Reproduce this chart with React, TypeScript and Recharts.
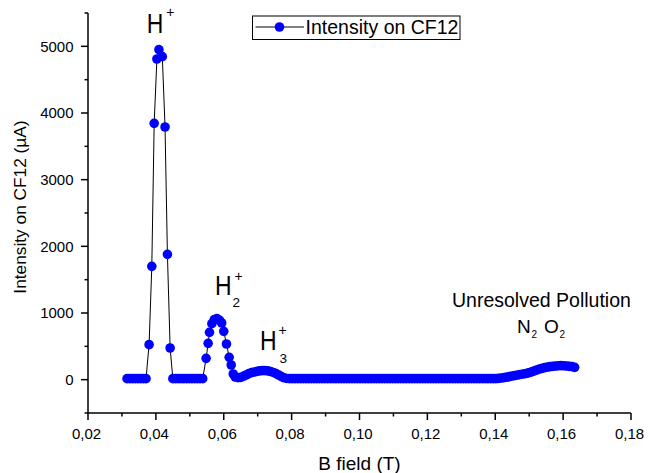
import { Line, LineChart, XAxis, YAxis } from 'recharts'

// B field (T) / intensity (µA)
const leadB = [0.0315, 0.0323, 0.0331, 0.0339, 0.0347, 0.0355, 0.0363, 0.0371]
const leadI = [15, 15, 15, 15, 15, 15, 15, 15]

const hPlusB = [0.038, 0.0388, 0.0395, 0.0403, 0.0409, 0.0419, 0.0427, 0.0434, 0.0442]
const hPlusI = [525, 1700, 3845, 4810, 4950, 4845, 3790, 1880, 475]

const gapB = [0.045, 0.0458, 0.0466, 0.0474, 0.0482, 0.049, 0.0498, 0.0506, 0.0514, 0.0522, 0.053, 0.0538]
const gapI = [15, 15, 15, 15, 15, 15, 15, 15, 15, 15, 15, 15]

const h2B = [0.0548, 0.0554, 0.0558, 0.0565, 0.0572, 0.058, 0.0588, 0.0594, 0.06, 0.0608, 0.0616, 0.0622, 0.0628]
const h2I = [320, 545, 710, 840, 900, 915, 890, 850, 725, 535, 335, 220, 85]

const h3B = [
  0.0634, 0.0642, 0.065, 0.0658, 0.0666, 0.0674, 0.0682, 0.069, 0.0698, 0.0706,
  0.0714, 0.0722, 0.073, 0.0738, 0.0746, 0.0754, 0.0762, 0.077, 0.0778, 0.0786,
]
const h3I = [40, 30, 35, 50, 70, 90, 105, 115, 125, 132, 136, 136, 132, 122, 108, 90, 70, 45, 28, 18]

const flatB = [
  0.0794, 0.0802, 0.081, 0.0818, 0.0826, 0.0834, 0.0842, 0.085, 0.0858, 0.0866,
  0.0874, 0.0882, 0.089, 0.0898, 0.0906, 0.0914, 0.0922, 0.093, 0.0938, 0.0946,
  0.0954, 0.0962, 0.097, 0.0978, 0.0986, 0.0994, 0.1002, 0.101, 0.1018, 0.1026,
  0.1034, 0.1042, 0.105, 0.1058, 0.1066, 0.1074, 0.1082, 0.109, 0.1098, 0.1106,
  0.1114, 0.1122, 0.113, 0.1138, 0.1146, 0.1154, 0.1162, 0.117, 0.1178, 0.1186,
  0.1194, 0.1202, 0.121, 0.1218, 0.1226, 0.1234, 0.1242, 0.125, 0.1258, 0.1266,
  0.1274, 0.1282, 0.129, 0.1298, 0.1306, 0.1314, 0.1322, 0.133, 0.1338, 0.1346,
  0.1354, 0.1362, 0.137, 0.1378, 0.1386, 0.1394,
]
const flatI = [
  15, 15, 15, 15, 15, 15, 15, 15, 15, 15,
  15, 15, 15, 15, 15, 15, 15, 15, 15, 15,
  15, 15, 15, 15, 15, 15, 15, 15, 15, 15,
  15, 15, 15, 15, 15, 15, 15, 15, 15, 15,
  15, 15, 15, 15, 15, 15, 15, 15, 15, 15,
  15, 15, 15, 15, 15, 15, 15, 15, 15, 15,
  15, 15, 15, 15, 15, 15, 15, 15, 15, 15,
  15, 15, 15, 15, 15, 15,
]

const pollutionB = [
  0.1402, 0.141, 0.1418, 0.1426, 0.1434, 0.1442, 0.145, 0.1458, 0.1466, 0.1474,
  0.1482, 0.149, 0.1498, 0.1506, 0.1514, 0.1522, 0.153, 0.1538, 0.1546, 0.1554,
  0.1562, 0.157, 0.1578, 0.1586, 0.1594, 0.1602, 0.161, 0.1618, 0.1626, 0.1634,
]
const pollutionI = [
  15, 20, 25, 30, 38, 45, 55, 62, 70, 78,
  85, 92, 102, 115, 130, 145, 158, 170, 180, 188,
  195, 200, 205, 208, 210, 208, 205, 200, 195, 185,
]

const xTicks = [0.02, 0.03, 0.04, 0.05, 0.06, 0.07, 0.08, 0.09, 0.1, 0.11, 0.12, 0.13, 0.14, 0.15, 0.16, 0.17, 0.18]
const yTicks = [-500, 0, 500, 1000, 1500, 2000, 2500, 3000, 3500, 4000, 4500, 5000, 5500]

const segments: [number[], number[]][] = [
  [leadB, leadI],
  [hPlusB, hPlusI],
  [gapB, gapI],
  [h2B, h2I],
  [h3B, h3I],
  [flatB, flatI],
  [pollutionB, pollutionI],
]
const rows = segments.flatMap(([bs, is]) => bs.map((b, k) => ({ b, i: is[k] })))

const FONT = '"Liberation Sans", Arial, sans-serif'

function XTick(props: any) {
  const { x, y, payload } = props
  const v = payload.value as number
  const major = Math.round(v * 100) % 2 === 0
  return (
    <g>
      <line x1={x} y1={y} x2={x} y2={y + (major ? 7 : 3.5)} stroke="#000" strokeWidth={1.5} />
      {major && (
        <text x={x - 1.5} y={y + 25.5} textAnchor="middle" fontSize={15} fontFamily={FONT} fill="#000">
          {v.toFixed(2).replace('.', ',')}
        </text>
      )}
    </g>
  )
}

function YTick(props: any) {
  const { x, y, payload } = props
  const v = payload.value as number
  const major = v % 1000 === 0
  return (
    <g>
      <line x1={x - (major ? 7 : 3.5)} y1={y} x2={x} y2={y} stroke="#000" strokeWidth={1.5} />
      {major && (
        <text x={x - 14.5} y={y + 5.3} textAnchor="end" fontSize={15} fontFamily={FONT} fill="#000">
          {v}
        </text>
      )}
    </g>
  )
}

function Overlay() {
  const t = { fontFamily: FONT, fill: '#000' }
  return (
    <svg width={650} height={473} style={{ position: 'absolute', left: 0, top: 0, pointerEvents: 'none' }}>
      {/* legend */}
      <rect x={252.5} y={16} width={207.5} height={23.5} fill="#fff" stroke="#000" strokeWidth={1} />
      <line x1={255.5} y1={27} x2={304} y2={27} stroke="#000" strokeWidth={1} />
      <circle cx={279.5} cy={27} r={4.8} fill="#0000ff" />
      <text x={305.6} y={34} fontSize={19.5} {...t}>Intensity on CF12</text>

      {/* axis titles */}
      <text x={359.5} y={470} fontSize={19} textAnchor="middle" {...t}>B field (T)</text>
      <text transform="translate(25.5,207) rotate(-90)" fontSize={17.3} textAnchor="middle" {...t}>
        Intensity on CF12 (µA)
      </text>

      {/* peak labels */}
      <text transform="translate(146.7,33.3) scale(0.82,1)" fontSize={28} {...t}>H</text>
      <text x={166.3} y={17} fontSize={14} {...t}>+</text>

      <text transform="translate(215,295) scale(0.82,1)" fontSize={28} {...t}>H</text>
      <text x={234.5} y={281.4} fontSize={14} {...t}>+</text>
      <text x={232.5} y={306.7} fontSize={13.5} {...t}>2</text>

      <text transform="translate(260,350) scale(0.82,1)" fontSize={28} {...t}>H</text>
      <text x={278.5} y={335.4} fontSize={14} {...t}>+</text>
      <text x={279.5} y={363} fontSize={13.5} {...t}>3</text>

      <text x={452} y={307.3} fontSize={19.5} {...t}>Unresolved Pollution</text>
      <text x={517} y={333.3} fontSize={19} {...t}>N</text>
      <text x={531.5} y={338.3} fontSize={10} {...t}>2</text>
      <text x={544} y={333.3} fontSize={19} {...t}>O</text>
      <text x={559.5} y={338.3} fontSize={10} {...t}>2</text>
    </svg>
  )
}

export default function App() {
  return (
    <div style={{ position: 'absolute', left: 0, top: 0, width: 650, height: 473, background: '#fff' }}>
      <LineChart width={650} height={473} data={rows} margin={{ top: 13, right: 19, bottom: 0, left: 0 }}>
        <XAxis
          dataKey="b"
          type="number"
          domain={[0.02, 0.18]}
          ticks={xTicks}
          interval={0}
          allowDataOverflow
          height={60}
          tickSize={0}
          tickMargin={0}
          tickLine={false}
          axisLine={{ stroke: '#000', strokeWidth: 1.5 }}
          tick={<XTick />}
        />
        <YAxis
          type="number"
          domain={[-500, 5500]}
          ticks={yTicks}
          interval={0}
          allowDataOverflow
          width={88}
          tickSize={0}
          tickMargin={0}
          tickLine={false}
          axisLine={{ stroke: '#000', strokeWidth: 1.5 }}
          tick={<YTick />}
        />
        <Line
          dataKey="i"
          type="linear"
          stroke="#000"
          strokeWidth={1}
          dot={{ r: 4.8, fill: '#0000ff', stroke: 'none' }}
          activeDot={false}
          isAnimationActive={false}
        />
      </LineChart>
      <Overlay />
    </div>
  )
}
